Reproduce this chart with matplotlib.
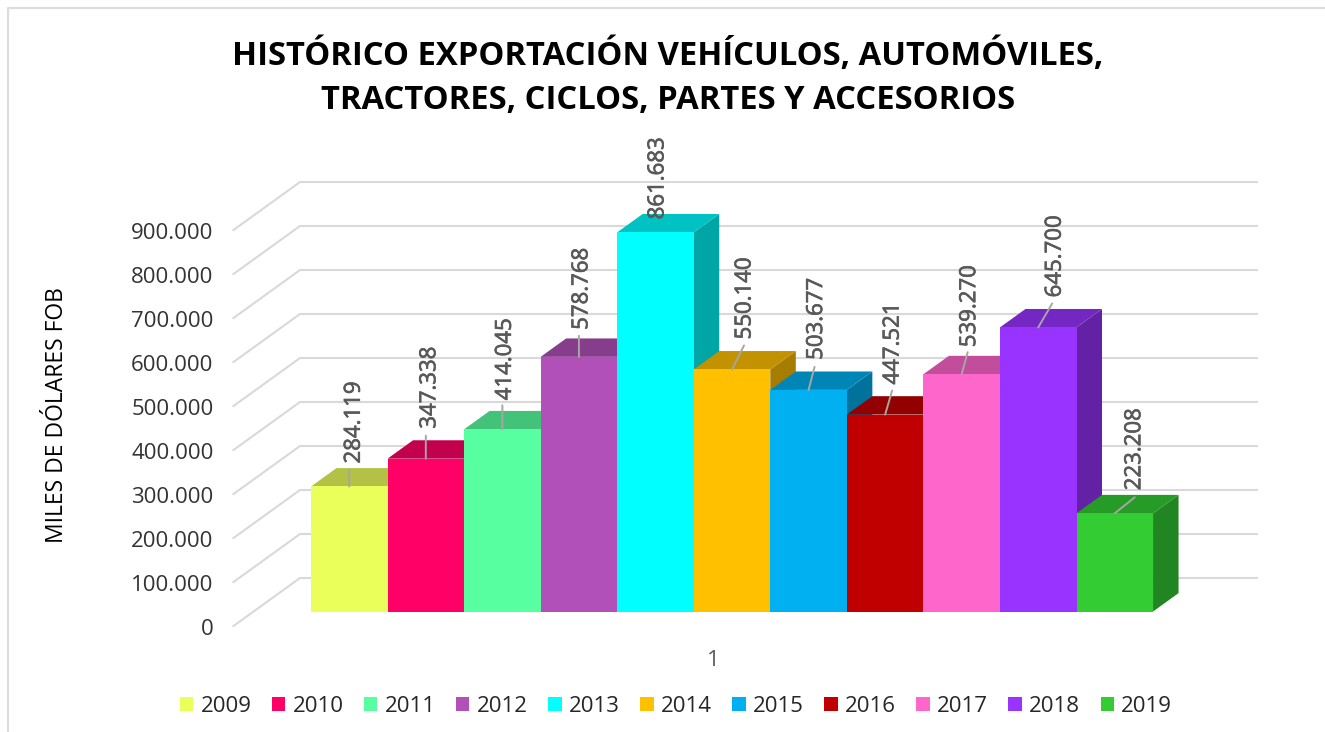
import matplotlib
matplotlib.use("Agg")
import matplotlib.pyplot as plt
import matplotlib.patheffects as pe
from matplotlib.colors import to_rgb
from matplotlib.lines import Line2D
from matplotlib.patches import Patch, Polygon

plt.rcParams['font.family'] = ['Open Sans', 'DejaVu Sans']

# Data
years = ['2009', '2010', '2011', '2012', '2013', '2014', '2015', '2016', '2017', '2018', '2019']
values = [284119, 347338, 414045, 578768, 861683, 550140, 503677, 447521, 539270, 645700, 223208]
colors = ['#EBFF5A', '#FF0066', '#58FFA0', '#B050B8', '#00FFFF', '#FFC000',
          '#00B0F0', '#C00000', '#FF66CC', '#9933FF', '#33CC33']
y_ticks = [0, 100000, 200000, 300000, 400000, 500000, 600000, 700000, 800000, 900000]

# Label and leader offsets from the bar top centre, in pixels (right, up)
label_dx = [5, 4, 3, 3, 2.5, 13, 8, 8, 8, 17, 20]
label_dy = [23, 30, 29, 27, 13, 30, 30, 30, 27, 30, 23]
leader_dx = [0, 0, 0, 0, 0, 12, 6, 7, 6, 14, 20]
leader_dy = [16, 23, 24, 21, 0, 24, 23, 24, 22, 24, 16]

W, H = 1325, 732
BAR_PX = 76.55       # pixels per category
UNIT_PX = 0.00044    # pixels per unit of value
X0_PX, Y0_PX = 311, 611.5   # front-left foot of the first bar
DEPTH_X, DEPTH_Y = 25.5, 18.4   # pixels for one bar depth

# depth positions of the floor, 0 and 1 being the bar front and back
FLOOR_FRONT, FLOOR_BACK = -0.79, 1.82
WALL_LEFT, WALL_RIGHT = -0.75, 11.75


def project(x, v, d=0.0):
    # oblique projection of (category, value, depth) on the flat axes
    return x + d * DEPTH_X / BAR_PX, v + d * DEPTH_Y / UNIT_PX


def shade(color, k):
    return tuple(c * k for c in to_rgb(color))


def num(v):
    return f"{v:,}".replace(",", ".")


fig = plt.figure(figsize=(W / 100, H / 100), dpi=100)
ax = fig.add_axes([0, 0, 1, 1])
ax.set_xlim(-X0_PX / BAR_PX, (W - X0_PX) / BAR_PX)
ax.set_ylim((Y0_PX - H) / UNIT_PX, Y0_PX / UNIT_PX)
ax.axis('off')

# Outer chart border (left and top only are in the crop)
fig.add_artist(Line2D([8 / W, 8 / W, 1], [0, 1 - 8 / H, 1 - 8 / H], color='#dddddd', lw=1.6))

# Wall and floor gridlines
for t in y_ticks:
    xs, ys = zip(project(WALL_LEFT, t, FLOOR_FRONT), project(WALL_LEFT, t, FLOOR_BACK),
                 project(WALL_RIGHT, t, FLOOR_BACK))
    ax.plot(xs, ys, color='#d9d9d9', lw=1.5, zorder=1, solid_joinstyle='miter')
    lx, ly = project(WALL_LEFT, t, FLOOR_FRONT)
    ax.annotate(num(t), (lx, ly), xytext=(-20, -1), textcoords='offset pixels',
                ha='right', va='center_baseline', fontsize=16, color='#333333')

# Bars, left to right so each one hides the side of the previous one
for i, (v, c) in enumerate(zip(values, colors)):
    top = [project(i, v), project(i + 1, v), project(i + 1, v, 1), project(i, v, 1)]
    side = [project(i + 1, 0), project(i + 1, 0, 1), project(i + 1, v, 1), project(i + 1, v)]
    front = [project(i, 0), project(i + 1, 0), project(i + 1, v), project(i, v)]
    ax.add_patch(Polygon(side, fc=shade(c, 0.65), ec='none', zorder=2 + i))
    ax.add_patch(Polygon(top, fc=shade(c, 0.76), ec='none', zorder=2 + i))
    ax.add_patch(Polygon(front, fc=c, ec='none', zorder=2 + i))

# Data labels with leader lines
for i, v in enumerate(values):
    if leader_dy[i] > 0:
        ax.annotate('', xy=(i + 0.5, v), xytext=(leader_dx[i], leader_dy[i]),
                    textcoords='offset pixels', zorder=20,
                    arrowprops=dict(arrowstyle='-', color='#a6a6a6', lw=1.4,
                                    shrinkA=0, shrinkB=0))
    ax.annotate(num(v), xy=(i + 0.5, v), xytext=(label_dx[i], label_dy[i]),
                textcoords='offset pixels', rotation=90, ha='center', va='bottom',
                fontsize=16, color='#595959', zorder=21,
                path_effects=[pe.withStroke(linewidth=0.5, foreground='#595959')])

# Category label under the floor
ax.text((WALL_LEFT + WALL_RIGHT) / 2 - 0.25, (Y0_PX - 660) / UNIT_PX, '1', ha='center', va='center',
        fontsize=16, color='#595959')

fig.text(57 / W, 1 - 415 / H, 'MILES DE DÓLARES FOB', rotation=90, ha='center', va='center',
         fontsize=16.5, color='black')
fig.text(668 / W, 1 - 78 / H, 'HISTÓRICO EXPORTACIÓN VEHÍCULOS, AUTOMÓVILES,\nTRACTORES, CICLOS, PARTES Y ACCESORIOS',
         ha='center', va='center', fontsize=23.6, fontweight='bold', color='black', linespacing=1.43)

handles = [Patch(fc=c, ec='none', label=y) for y, c in zip(years, colors)]
fig.legend(handles=handles, ncol=11, loc='center', bbox_to_anchor=(676 / W, 1 - 706 / H),
           frameon=False, fontsize=16, labelcolor='#262626', handlelength=0.6, handleheight=0.6,
           handletextpad=0.33, columnspacing=0.92, borderpad=0)

fig.savefig('out.png', dpi=100, facecolor='white')
